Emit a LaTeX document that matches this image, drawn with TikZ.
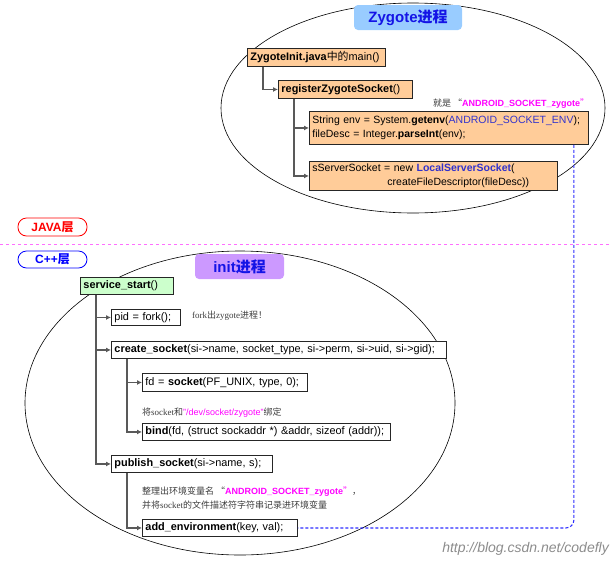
\documentclass[tikz,border=0pt]{standalone}
\usepackage{fontspec}
\setmainfont{Liberation Sans}
\newfontfamily\cjk{Noto Sans CJK SC}
\newfontfamily\serifl{Liberation Serif}
\usetikzlibrary{arrows.meta}
\definecolor{orfill}{RGB}{255,204,153}
\definecolor{tblue}{RGB}{153,204,255}
\definecolor{ipurple}{RGB}{204,153,255}
\definecolor{gfill}{RGB}{204,255,204}
\definecolor{ttext}{RGB}{20,20,230}
\definecolor{mag}{RGB}{255,0,255}
\definecolor{envblue}{RGB}{51,51,204}
\definecolor{dblue}{RGB}{45,45,255}
\definecolor{lmag}{RGB}{255,110,255}
\definecolor{notegray}{RGB}{60,60,60}
\begin{document}
\begin{tikzpicture}[x=1pt,y=-1pt,
  box/.style={draw=black!85, line width=0.9pt, inner xsep=3pt, inner ysep=0pt,
    anchor=north west, align=left, font=\fontsize{10.9}{13}\selectfont},
  obox/.style={box, fill=orfill},
  wbox/.style={box, fill=white},
  gbox/.style={box, fill=gfill},
  conn/.style={draw=black!65, line width=1.3pt, -{Latex[length=5pt,width=5pt]}},
  ell/.style={draw=black, line width=0.6pt},
  title/.style={rounded corners=4pt, inner sep=0pt, text=ttext,
    font=\fontsize{15}{18}\selectfont\bfseries},
  layer/.style={draw, line width=0.8pt, rounded corners=8.5pt, fill=white, inner sep=0pt,
    font=\fontsize{12}{14}\selectfont\bfseries},
  note/.style={inner sep=0pt, text=notegray, font=\fontsize{9}{14}\selectfont},
  bluedash/.style={draw=dblue, line width=1.1pt, dash pattern=on 3pt off 2pt, rounded corners=8pt}
]
\useasboundingbox (0,0) rectangle (610,560);

% ellipses
\draw[ell] (413,108) ellipse [x radius=192pt, y radius=105pt];
\draw[ell] (240,403) ellipse [x radius=215pt, y radius=152pt];

% layer separator
\draw[draw=lmag, line width=0.8pt, dash pattern=on 3pt off 3pt] (0,244) -- (610,244);

% titles
\node[title, fill=tblue, minimum width=108pt, minimum height=25pt] (zt) at (408,17.5) {Zygote{\cjk\bfseries 进程}};
\node[title, fill=ipurple, minimum width=89pt, minimum height=25pt] (it) at (239.5,266.5) {init{\cjk\bfseries 进程}};
\node[layer, draw=red, text=red, minimum width=69pt, minimum height=18pt] (java) at (52.5,227) {JAVA{\cjk\bfseries 层}};
\node[layer, draw=blue, text=blue, minimum width=69pt, minimum height=17pt] (cpp) at (52.5,259.5) {C++{\cjk\bfseries 层}};

% Zygote side
\node[obox, text width=132pt, minimum height=18pt] (zi) at (247,48) {\textbf{ZygoteInit.java}{\cjk 中的}main()};
\node[obox, text width=128pt, minimum height=18pt] (reg) at (278,80) {\textbf{registerZygoteSocket}()};
\node[note, anchor=west] (n1) at (433,104) {{\cjk 就是 “}\textcolor{mag}{\textbf{ANDROID\_SOCKET\_zygote}}{\cjk\color{mag}”}};
\node[obox, text width=273pt, minimum height=33pt, font=\fontsize{10.5}{13.5}\selectfont] (env) at (309,111) {String env = System.\textbf{getenv}(\textcolor{envblue}{ANDROID\_SOCKET\_ENV});\\fileDesc = Integer.\textbf{parseInt}(env);};
\node[obox, text width=242pt, minimum height=29pt, font=\fontsize{10.5}{13.5}\selectfont] (sss) at (309,161) {sServerSocket = new \textcolor{envblue}{\textbf{LocalServerSocket}}(\\\hspace*{75pt}createFileDescriptor(fileDesc))};

\draw[conn] ([xshift=16pt]zi.south west) |- (reg.west);
\draw[conn] ([xshift=16pt]reg.south west) |- (env.west);
\draw[conn] ([xshift=16pt]reg.south west) |- (sss.west);

% init side
\node[gbox, text width=87pt, minimum height=17pt] (ss) at (80,277) {\textbf{service\_start}()};
\node[wbox, text width=63pt, minimum height=16pt] (pid) at (111,309) {pid = fork();};
\node[note, anchor=west] (n2) at (192,316) {{\serifl fork}{\cjk 出}{\serifl zygote}{\cjk 进程！}};
\node[wbox, text width=329pt, minimum height=17pt] (cs) at (111,341) {\textbf{create\_socket}(si->name, socket\_type, si->perm, si->uid, si->gid);};
\node[wbox, text width=159pt, minimum height=18pt] (fd) at (142,373) {fd = \textbf{socket}(PF\_UNIX, type, 0);};
\node[note, anchor=west] (n3) at (142,413) {{\cjk 将}{\serifl socket}{\cjk 和}\textcolor{mag}{"/dev/socket/zygote"}{\cjk 绑定}};
\node[wbox, text width=242pt, minimum height=17pt] (bind) at (142,423) {\textbf{bind}(fd, (struct sockaddr *) \&addr, sizeof (addr));};
\node[wbox, text width=155pt, minimum height=17pt] (pub) at (111,455) {\textbf{publish\_socket}(si->name, s);};
\node[note, anchor=north west, align=left] (n4) at (142,487) {{\cjk 整理出环境变量名 “}\textcolor{mag}{\textbf{ANDROID\_SOCKET\_zygote}}{\cjk\color{mag}”}{\cjk ，}\\{\cjk 并将}{\serifl socket}{\cjk 的文件描述符字符串记录进环境变量}};
\node[wbox, text width=149pt, minimum height=17pt] (add) at (142,519) {\textbf{add\_environment}(key, val);};

\draw[conn] ([xshift=16pt]ss.south west) |- (pid.west);
\draw[conn] ([xshift=16pt]ss.south west) |- (cs.west);
\draw[conn] ([xshift=16pt]ss.south west) |- (pub.west);
\draw[conn] ([xshift=16pt]cs.south west) |- (fd.west);
\draw[conn] ([xshift=16pt]cs.south west) |- (bind.west);
\draw[conn] ([xshift=16pt]pub.south west) |- (add.west);

% environment link
\draw[bluedash] ([xshift=-15pt]env.south east) |- (add.east);

% watermark
\node[anchor=east, inner sep=0pt, text=black!45, font=\fontsize{14}{16}\selectfont\itshape] (wm) at (609,549) {http://blog.csdn.net/codefly};
\end{tikzpicture}
\end{document}
